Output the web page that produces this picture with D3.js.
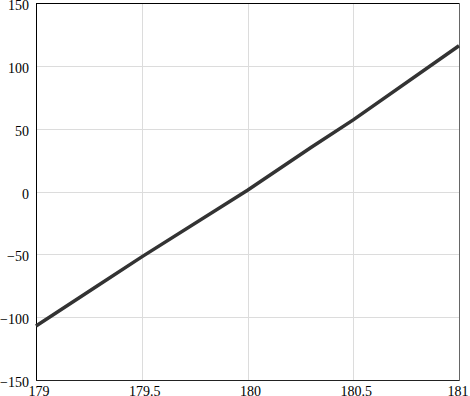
<!DOCTYPE html>
<html><head><meta charset="utf-8">
<script src="https://cdn.jsdelivr.net/npm/d3@7"></script>
<style>body{margin:0;background:#fff}svg{display:block}text{font-family:"Liberation Serif","Times New Roman",serif;font-size:14px;fill:#000}</style>
</head><body><svg id="c" width="470" height="396"></svg>
<script>
const xValues = [179, 179.3, 179.5, 180, 180.3, 180.5, 181];
const yValues = [-107, -74, -52, 1, 35, 57, 116];
const xTicks = [179, 179.5, 180, 180.5, 181];
const yTicks = [-150, -100, -50, 0, 50, 100, 150];

const svg = d3.select("#c");
const L = 36, R = 459, T = 3, B = 380;
const x = d3.scaleLinear().domain([179, 181]).range([L, R]);
const y = d3.scaleLinear().domain([-150, 150]).range([B, T]);

const g = svg.append("g");
g.selectAll(".gx").data(xTicks).join("line")
  .attr("x1", d => Math.round(x(d)) + 0.5).attr("x2", d => Math.round(x(d)) + 0.5)
  .attr("y1", T).attr("y2", B).attr("stroke", "#dcdcdc").attr("stroke-width", 1);
g.selectAll(".gy").data(yTicks).join("line")
  .attr("y1", d => Math.round(y(d)) + 0.5).attr("y2", d => Math.round(y(d)) + 0.5)
  .attr("x1", L).attr("x2", R).attr("stroke", "#dcdcdc").attr("stroke-width", 1);

// borders
svg.append("line").attr("x1", L).attr("x2", R).attr("y1", T + 0.5).attr("y2", T + 0.5).attr("stroke", "#000");
svg.append("line").attr("x1", L + 0.5).attr("x2", L + 0.5).attr("y1", T).attr("y2", B).attr("stroke", "#000");
svg.append("line").attr("x1", L).attr("x2", R).attr("y1", B + 0.5).attr("y2", B + 0.5).attr("stroke", "#222");
svg.append("line").attr("x1", R + 0.5).attr("x2", R + 0.5).attr("y1", T).attr("y2", B + 1).attr("stroke", "#666");

const line = d3.line().x((d, i) => x(xValues[i])).y(d => y(d));
svg.append("path").datum(yValues).attr("d", line)
  .attr("fill", "none").attr("stroke", "#333").attr("stroke-width", 3.5);

svg.selectAll(".yl").data(yTicks).join("text")
  .attr("x", 29).attr("y", d => y(d) + 7).attr("text-anchor", "end")
  .text(d => d < 0 ? "\u2212" + Math.abs(d) : d);
svg.selectAll(".xl").data(xTicks).join("text")
  .attr("x", d => x(d) + (d === 181 ? -1 : 3)).attr("y", 396).attr("text-anchor", "middle")
  .text(d => d);
</script></body></html>
